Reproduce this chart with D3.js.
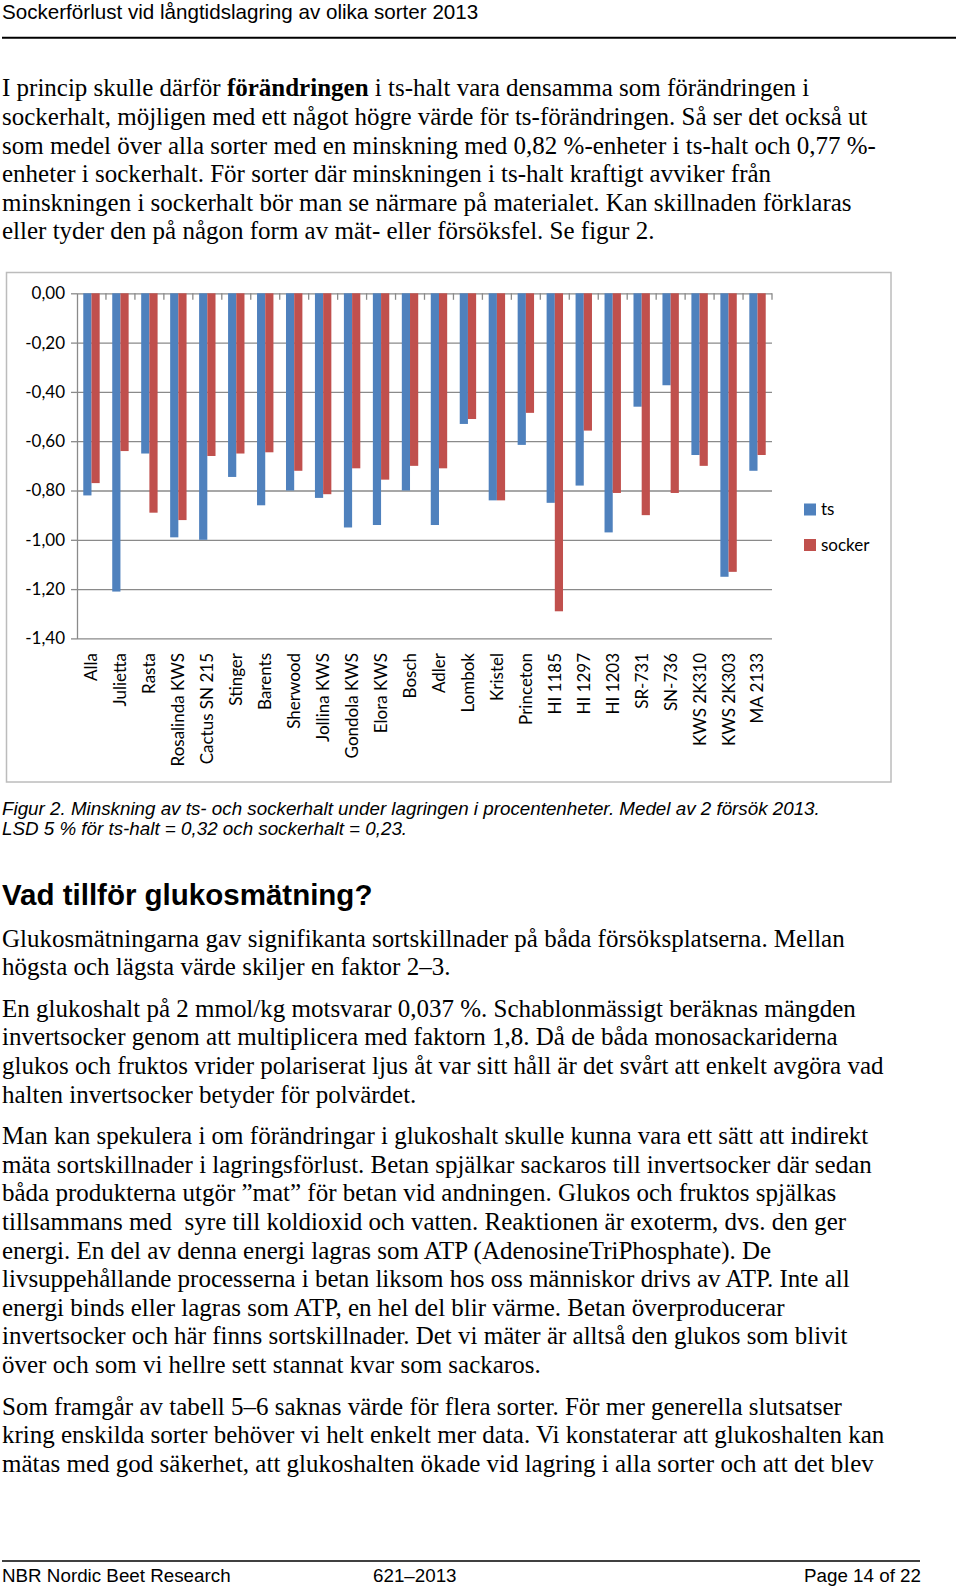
<!DOCTYPE html>
<html>
<head>
<meta charset="utf-8">
<script src="https://cdn.jsdelivr.net/npm/d3@7"></script>
<style>
    body { margin: 0; background: #fff; }
    svg { display: block; }
    .serif { font-family: "Liberation Serif", "Times New Roman", serif; font-size: 25px; fill: #000; }
    .sans { font-family: "Liberation Sans", Arial, sans-serif; fill: #000; }
    .chart text { font-family: Lato, "Open Sans", sans-serif; fill: #000; }
</style>
</head>
<body>
<div id="page"></div>
<script>
// chart data
const categories = ["Alla", "Julietta", "Rasta", "Rosalinda KWS", "Cactus SN 215", "Stinger",
    "Barents", "Sherwood", "Jollina KWS", "Gondola KWS", "Elora KWS", "Bosch", "Adler",
    "Lombok", "Kristel", "Princeton", "HI 1185", "HI 1297", "HI 1203", "SR-731", "SN-736",
    "KWS 2K310", "KWS 2K303", "MA 2133"];
const tsValues = [-0.82, -1.21, -0.65, -0.99, -1.00, -0.745, -0.86, -0.80, -0.83, -0.95, -0.94, -0.80,
    -0.94, -0.53, -0.84, -0.615, -0.85, -0.78, -0.97, -0.46, -0.373, -0.656, -1.15, -0.72];
const sockerValues = [-0.77, -0.64, -0.89, -0.92, -0.66, -0.65, -0.645, -0.72, -0.815, -0.71, -0.756, -0.70,
    -0.71, -0.51, -0.84, -0.485, -1.29, -0.557, -0.81, -0.90, -0.81, -0.70, -1.13, -0.656];
const seriesNames = ["ts", "socker"];
const yTicks = [0, -0.2, -0.4, -0.6, -0.8, -1.0, -1.2, -1.4];

// page text
const headerTitle = "Sockerförlust vid långtidslagring av olika sorter 2013";
const introLines = [
    ["I princip skulle därför ", "förändringen", " i ts-halt vara densamma som förändringen i"],
    ["sockerhalt, möjligen med ett något högre värde för ts-förändringen. Så ser det också ut"],
    ["som medel över alla sorter med en minskning med 0,82 %-enheter i ts-halt och 0,77 %-"],
    ["enheter i sockerhalt. För sorter där minskningen i ts-halt kraftigt avviker från"],
    ["minskningen i sockerhalt bör man se närmare på materialet. Kan skillnaden förklaras"],
    ["eller tyder den på någon form av mät- eller försöksfel. Se figur 2."]
];
const captionLines = [
    "Figur 2. Minskning av ts- och sockerhalt under lagringen i procentenheter. Medel av 2 försök 2013.",
    "LSD 5 % för ts-halt = 0,32 och sockerhalt = 0,23."
];
const heading = "Vad tillför glukosmätning?";
const bodyParagraphs = [
    ["Glukosmätningarna gav signifikanta sortskillnader på båda försöksplatserna. Mellan",
     "högsta och lägsta värde skiljer en faktor 2–3."],
    ["En glukoshalt på 2 mmol/kg motsvarar 0,037 %. Schablonmässigt beräknas mängden",
     "invertsocker genom att multiplicera med faktorn 1,8. Då de båda monosackariderna",
     "glukos och fruktos vrider polariserat ljus åt var sitt håll är det svårt att enkelt avgöra vad",
     "halten invertsocker betyder för polvärdet."],
    ["Man kan spekulera i om förändringar i glukoshalt skulle kunna vara ett sätt att indirekt",
     "mäta sortskillnader i lagringsförlust. Betan spjälkar sackaros till invertsocker där sedan",
     "båda produkterna utgör ”mat” för betan vid andningen. Glukos och fruktos spjälkas",
     "tillsammans med  syre till koldioxid och vatten. Reaktionen är exoterm, dvs. den ger",
     "energi. En del av denna energi lagras som ATP (AdenosineTriPhosphate). De",
     "livsuppehållande processerna i betan liksom hos oss människor drivs av ATP. Inte all",
     "energi binds eller lagras som ATP, en hel del blir värme. Betan överproducerar",
     "invertsocker och här finns sortskillnader. Det vi mäter är alltså den glukos som blivit",
     "över och som vi hellre sett stannat kvar som sackaros."],
    ["Som framgår av tabell 5–6 saknas värde för flera sorter. För mer generella slutsatser",
     "kring enskilda sorter behöver vi helt enkelt mer data. Vi konstaterar att glukoshalten kan",
     "mätas med god säkerhet, att glukoshalten ökade vid lagring i alla sorter och att det blev"]
];
const footerParts = ["NBR Nordic Beet Research", "621–2013", "Page 14 of 22"];

const width = 960, height = 1587;
const lineStep = 28.6;
const serifStretch = 1.04; // body text on the scanned page is slightly taller than wide

const svg = d3.select("#page").append("svg")
    .attr("width", width)
    .attr("height", height)
    .attr("viewBox", `0 0 ${width} ${height}`);

svg.append("rect").attr("width", width).attr("height", height).attr("fill", "#fff");

function serifLine(y) {
    return svg.append("text").attr("class", "serif")
              .attr("xml:space", "preserve")
              .attr("transform", `translate(2,${y}) scale(1,${serifStretch})`);
}

// Header
svg.append("text").attr("class", "sans")
   .attr("x", 2).attr("y", 19)
   .style("font-size", "20.6px")
   .text(headerTitle);
svg.append("line")
   .attr("x1", 2).attr("x2", 956).attr("y1", 37.7).attr("y2", 37.7)
   .attr("stroke", "#000").attr("stroke-width", 2);

// Intro paragraph
introLines.forEach((parts, i) => {
    const t = serifLine(96.3 + i * lineStep);
    parts.forEach((p, j) => {
        t.append("tspan").text(p).style("font-weight", j === 1 ? "bold" : "normal");
    });
});

// Chart frame
const frame = { left: 6.5, top: 272.5, right: 891, bottom: 782 };
const chart = svg.append("g").attr("class", "chart");
chart.append("rect")
     .attr("x", frame.left).attr("y", frame.top)
     .attr("width", frame.right - frame.left)
     .attr("height", frame.bottom - frame.top)
     .attr("fill", "#fff")
     .attr("stroke", "#bcbcbc")
     .attr("stroke-width", 1.5);

const plot = { left: 77, right: 772, top: 293.3, bottom: 638.4 };

const xScale = d3.scaleBand()
                 .domain(categories)
                 .range([plot.left, plot.right]);

const pairWidth = 16.4;
const xInner = d3.scaleBand()
                 .domain(seriesNames)
                 .range([(xScale.bandwidth() - pairWidth) / 2, (xScale.bandwidth() + pairWidth) / 2]);

const yScale = d3.scaleLinear()
                 .domain([0, -1.4])
                 .range([plot.top, plot.bottom]);

const gridColor = "#8a8a8a";

// Gridlines + y axis
const yAxis = d3.axisLeft(yScale)
                .tickValues(yTicks)
                .tickSize(-(plot.right - plot.left))
                .tickSizeOuter(0)
                .tickPadding(12)
                .tickFormat(d => d3.format(".2f")(d).replace(".", ",").replace("−", "-"));

const yG = chart.append("g")
                .attr("transform", `translate(${plot.left},0)`)
                .call(yAxis);
yG.select(".domain").attr("stroke", gridColor).attr("stroke-width", 1.3);
yG.selectAll(".tick line").attr("stroke", gridColor).attr("stroke-width", 1.3);
yG.selectAll(".tick text").style("font-size", "17px").attr("fill", "#000");
// outward tick marks on the value axis
yG.selectAll(".tick").append("line")
  .attr("x1", -6).attr("x2", 0)
  .attr("stroke", gridColor).attr("stroke-width", 1.3);

// Category tick marks along the zero line
const boundaries = categories.map(c => xScale(c) + xScale.bandwidth());
chart.append("g").selectAll("line")
     .data(boundaries)
     .enter()
     .append("line")
     .attr("x1", d => d).attr("x2", d => d)
     .attr("y1", yScale(0)).attr("y2", yScale(0) + 6.5)
     .attr("stroke", gridColor).attr("stroke-width", 1.3);

// Bars
const colors = { ts: "#4f81bd", socker: "#c0504d" };
const rows = categories.map((c, i) => ({ cat: c, ts: tsValues[i], socker: sockerValues[i] }));

const groups = chart.append("g").selectAll("g")
                    .data(rows)
                    .enter()
                    .append("g")
                    .attr("transform", d => `translate(${xScale(d.cat)},0)`);

groups.selectAll("rect")
      .data(d => seriesNames.map(s => ({ key: s, value: d[s] })))
      .enter()
      .append("rect")
      .attr("x", d => xInner(d.key))
      .attr("width", xInner.bandwidth())
      .attr("y", yScale(0))
      .attr("height", d => yScale(d.value) - yScale(0))
      .attr("fill", d => colors[d.key]);

// Category labels, rotated
chart.append("g").selectAll("text")
     .data(categories)
     .enter()
     .append("text")
     .attr("transform", d => `translate(${xScale(d) + xScale.bandwidth() / 2},653) rotate(-90)`)
     .attr("text-anchor", "end")
     .attr("dy", "0.35em")
     .style("font-size", "17px")
     .text(d => d);

// Legend
const legend = chart.append("g").selectAll("g")
                    .data(seriesNames)
                    .enter()
                    .append("g")
                    .attr("transform", (d, i) => `translate(804,${503.5 + i * 35.5})`);
legend.append("rect")
      .attr("width", 12).attr("height", 12)
      .attr("fill", d => colors[d]);
legend.append("text")
      .attr("x", 17).attr("y", 6).attr("dy", "0.35em")
      .style("font-size", "17px")
      .text(d => d);

// Caption
captionLines.forEach((line, i) => {
    svg.append("text").attr("class", "sans")
       .attr("x", 2).attr("y", 815 + i * 20)
       .style("font-size", "18.8px")
       .style("font-style", "italic")
       .text(line);
});

// Heading
svg.append("text").attr("class", "sans")
   .attr("x", 2).attr("y", 905)
   .style("font-size", "29.5px")
   .style("font-weight", "bold")
   .text(heading);

// Body
let baseline = 946.5;
bodyParagraphs.forEach(para => {
    para.forEach(line => {
        serifLine(baseline).text(line);
        baseline += lineStep;
    });
    baseline += 13;
});

// Footer
svg.append("line")
   .attr("x1", 2).attr("x2", 920).attr("y1", 1561).attr("y2", 1561)
   .attr("stroke", "#000").attr("stroke-width", 1.5);
const footerX = [2, 373, 921];
const footerAnchor = ["start", "start", "end"];
footerParts.forEach((p, i) => {
    svg.append("text").attr("class", "sans")
       .attr("x", footerX[i]).attr("y", 1582)
       .attr("text-anchor", footerAnchor[i])
       .style("font-size", "18.8px")
       .text(p);
});
</script>
</body>
</html>
